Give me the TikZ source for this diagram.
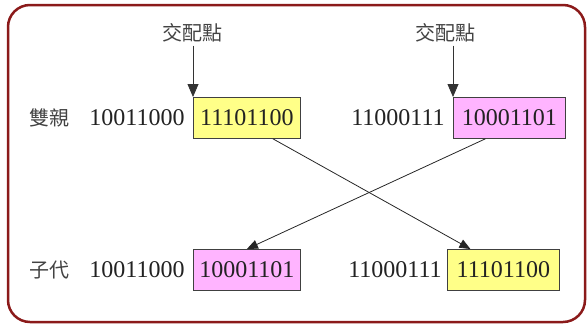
\documentclass[tikz,border=0pt]{standalone}
\usepackage{fontspec}
\setmainfont{Liberation Serif}
\newfontfamily\cjk{Noto Sans CJK TC}
\usetikzlibrary{arrows.meta,calc}
\definecolor{framered}{HTML}{8B1A1A}
\definecolor{geneyellow}{HTML}{FFFF88}
\definecolor{genepink}{HTML}{FFB4FF}
\definecolor{ink}{HTML}{222222}
\begin{document}
\begin{tikzpicture}[x=1pt,y=-1pt,
  bits/.style={font=\fontsize{24}{24}\selectfont, text=ink, inner sep=0pt},
  seg/.style={bits, draw=black!75, line width=0.8pt, minimum height=41pt, anchor=north west},
  yseg/.style={seg, fill=geneyellow},
  pseg/.style={seg, fill=genepink},
  tag/.style={font=\cjk\fontsize{20}{20}\selectfont, text=ink!85, inner sep=0pt},
  pointer/.style={-{Triangle[width=11pt,length=13pt]}, line width=0.8pt, draw=black!80},
  swap/.style={-{Triangle[width=9pt,length=11pt]}, line width=0.8pt, draw=black!85}]
  \useasboundingbox (0,0) rectangle (587,325);
  % outer frame
  \draw[framered, line width=2.5pt, rounded corners=22pt] (8,5) rectangle (585,322);

  % parent row
  \node[tag] (parent) at (50,118) {雙親};
  \node[bits] (pa) at (137,118) {10011000};
  \node[yseg, minimum width=107pt] (pb) at (193,97) {11101100};
  \node[bits] (qa) at (398,118) {11000111};
  \node[pseg, minimum width=112pt] (qb) at (453,97) {10001101};

  % offspring row
  \node[tag] (child) at (50,270) {子代};
  \node[bits] (ca) at (137,270) {10011000};
  \node[pseg, minimum width=107pt] (cb) at (193,249) {10001101};
  \node[bits] (da) at (395,270) {11000111};
  \node[yseg, minimum width=112pt] (db) at (447,249) {11101100};

  % crossover point labels
  \node[tag] (cx1) at (192,33) {交配點};
  \node[tag] (cx2) at (445,33) {交配點};
  \draw[pointer] (cx1.south -| pb.north west) ++(0,3) -- (pb.north west);
  \draw[pointer] (cx2.south -| qb.north west) ++(0,3) -- (qb.north west);

  % exchanged tails
  \draw[swap] ([xshift=26pt]pb.south) -- ([xshift=-33pt]db.north);
  \draw[swap] ([xshift=-24pt]qb.south) -- (cb.north);
\end{tikzpicture}
\end{document}
